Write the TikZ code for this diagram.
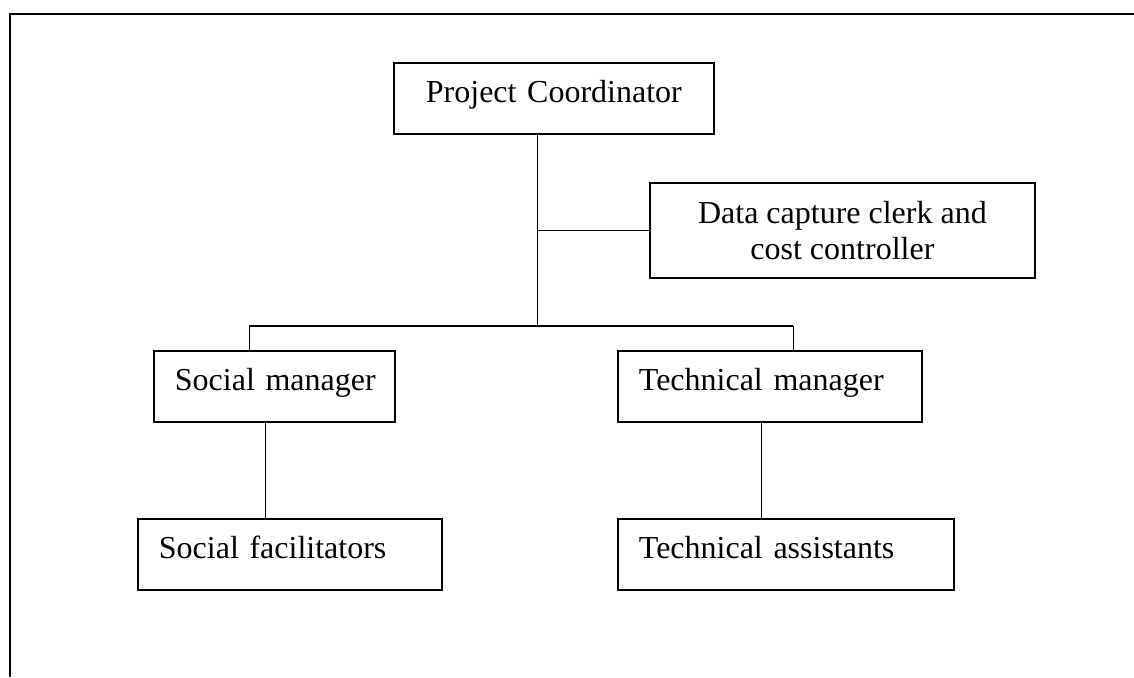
\documentclass[tikz,border=0pt]{standalone}
\usepackage{fontspec}
\setmainfont{Liberation Serif}
\hyphenpenalty=10000
\begin{document}
\begin{tikzpicture}[x=0.5pt,y=-0.5pt,
  box/.style={draw, line width=0.9pt, rectangle, anchor=north west, inner ysep=0pt,
    text height=20pt, text depth=15.5pt, font=\fontsize{16}{18.3}\selectfont},
  lbox/.style={box, inner xsep=0pt, align=left},
  cbox/.style={box, inner xsep=0pt, align=center},
  dbox/.style={draw, line width=0.9pt, rectangle, anchor=north west, inner sep=0pt,
    align=center, font=\fontsize{16}{18.3}\selectfont},
  link/.style={line width=0.7pt},
  frame/.style={line width=1pt}]
\useasboundingbox (0,0) rectangle (1134,677);
\draw[frame] (9.5,677) -- (9.5,13.5) -- (1134,13.5);

\node[cbox, text width=160pt] (pc) at (393,62) {Project Coordinator};
\node[dbox, minimum width=192.5pt, minimum height=47.5pt] (dc) at (649,182)
  {Data capture clerk and\\cost controller};
\node[lbox, text width=120.5pt] (sm) at (153,350) {\hspace*{10.5pt}Social manager};
\node[lbox, text width=152pt] (sf) at (137,518) {\hspace*{10.5pt}Social facilitators};
\node[lbox, text width=152pt] (tm) at (617,350) {\hspace*{10.5pt}Technical manager};
\node[lbox, text width=168pt] (ta) at (617,518) {\hspace*{10.5pt}Technical assistants};

\coordinate (bar) at (537.3,326);
\coordinate (barL) at (249.3,326);
\coordinate (barR) at (793.3,326);
\coordinate (sx) at (265.3,470);
\coordinate (tx) at (761.7,470);

\draw[link] (pc.south -| bar) -- (bar);
\draw[link] (dc.west) -- (dc.west -| bar);
\draw[link] (barL) -- (barR);
\draw[link] (barL) -- (sm.north -| barL);
\draw[link] (barR) -- (tm.north -| barR);
\draw[link] (sm.south -| sx) -- (sf.north -| sx);
\draw[link] (tm.south -| tx) -- (ta.north -| tx);
\end{tikzpicture}
\end{document}
